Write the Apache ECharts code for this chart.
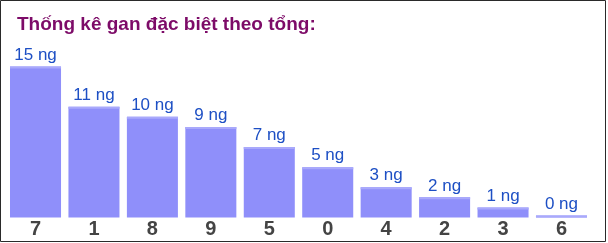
<!DOCTYPE html>
<html>
<head>
<meta charset="utf-8">
<script src="https://cdn.jsdelivr.net/npm/echarts@6/dist/echarts.min.js"></script>
<style>html,body{margin:0;padding:0;background:#fff;}#c{width:608px;height:243px;}</style>
</head>
<body>
<div id="c"></div>
<script>
const titleText = 'Thống kê gan đặc biệt theo tổng:';
const categories = ['7', '1', '8', '9', '5', '0', '4', '2', '3', '6'];
const values = [15, 11, 10, 9, 7, 5, 3, 2, 1, 0];
const unit = ' ng';

const chart = echarts.init(document.getElementById('c'), null, {renderer: 'canvas'});
chart.setOption({
  animation: false,
  backgroundColor: '#fff',
  title: {
    text: titleText, left: 12, top: 10,
    textStyle: {fontFamily: 'Liberation Sans, Arial', fontSize: 19, fontWeight: 'bold', color: '#7d0b68'}
  },
  graphic: [{
    type: 'rect', shape: {x: 0.5, y: 0.5, width: 605, height: 241},
    style: {fill: 'none', stroke: '#2a2a2a', lineWidth: 1}, z: 100, silent: true
  }],
  grid: {left: 6.3, right: 17.3, top: 66.5, bottom: 25.5},
  xAxis: {
    type: 'category', data: categories,
    axisLine: {show: false}, axisTick: {show: false},
    axisLabel: {margin: 2, fontFamily: 'Liberation Sans, Arial', fontSize: 20, fontWeight: 'bold', color: '#444'}
  },
  yAxis: {type: 'value', min: 0, max: 15, show: false, splitLine: {show: false}},
  series: [{
    type: 'bar', data: values, barCategoryGap: '12.7%', barMinHeight: 2,
    itemStyle: {color: '#8f8ffa'},
    label: {
      show: true, position: 'top', distance: 3,
      formatter: p => p.value + unit,
      fontFamily: 'Liberation Sans, Arial', fontSize: 17, color: '#1d4fc4'
    }
  }, {
    type: 'custom', data: values.map((v, i) => [i, v]), z: 5,
    renderItem: function (params, api) {
      const p = api.coord([api.value(0), api.value(1)]);
      const base = api.coord([api.value(0), 0]);
      const w = api.size([1, 0])[0] * (1 - 0.127);
      const top = Math.min(p[1], base[1] - 2);
      return {type: 'rect', shape: {x: p[0] - w / 2, y: top, width: w, height: 2}, style: {fill: '#a9a9fb'}};
    }
  }]
});
</script>
</body>
</html>
